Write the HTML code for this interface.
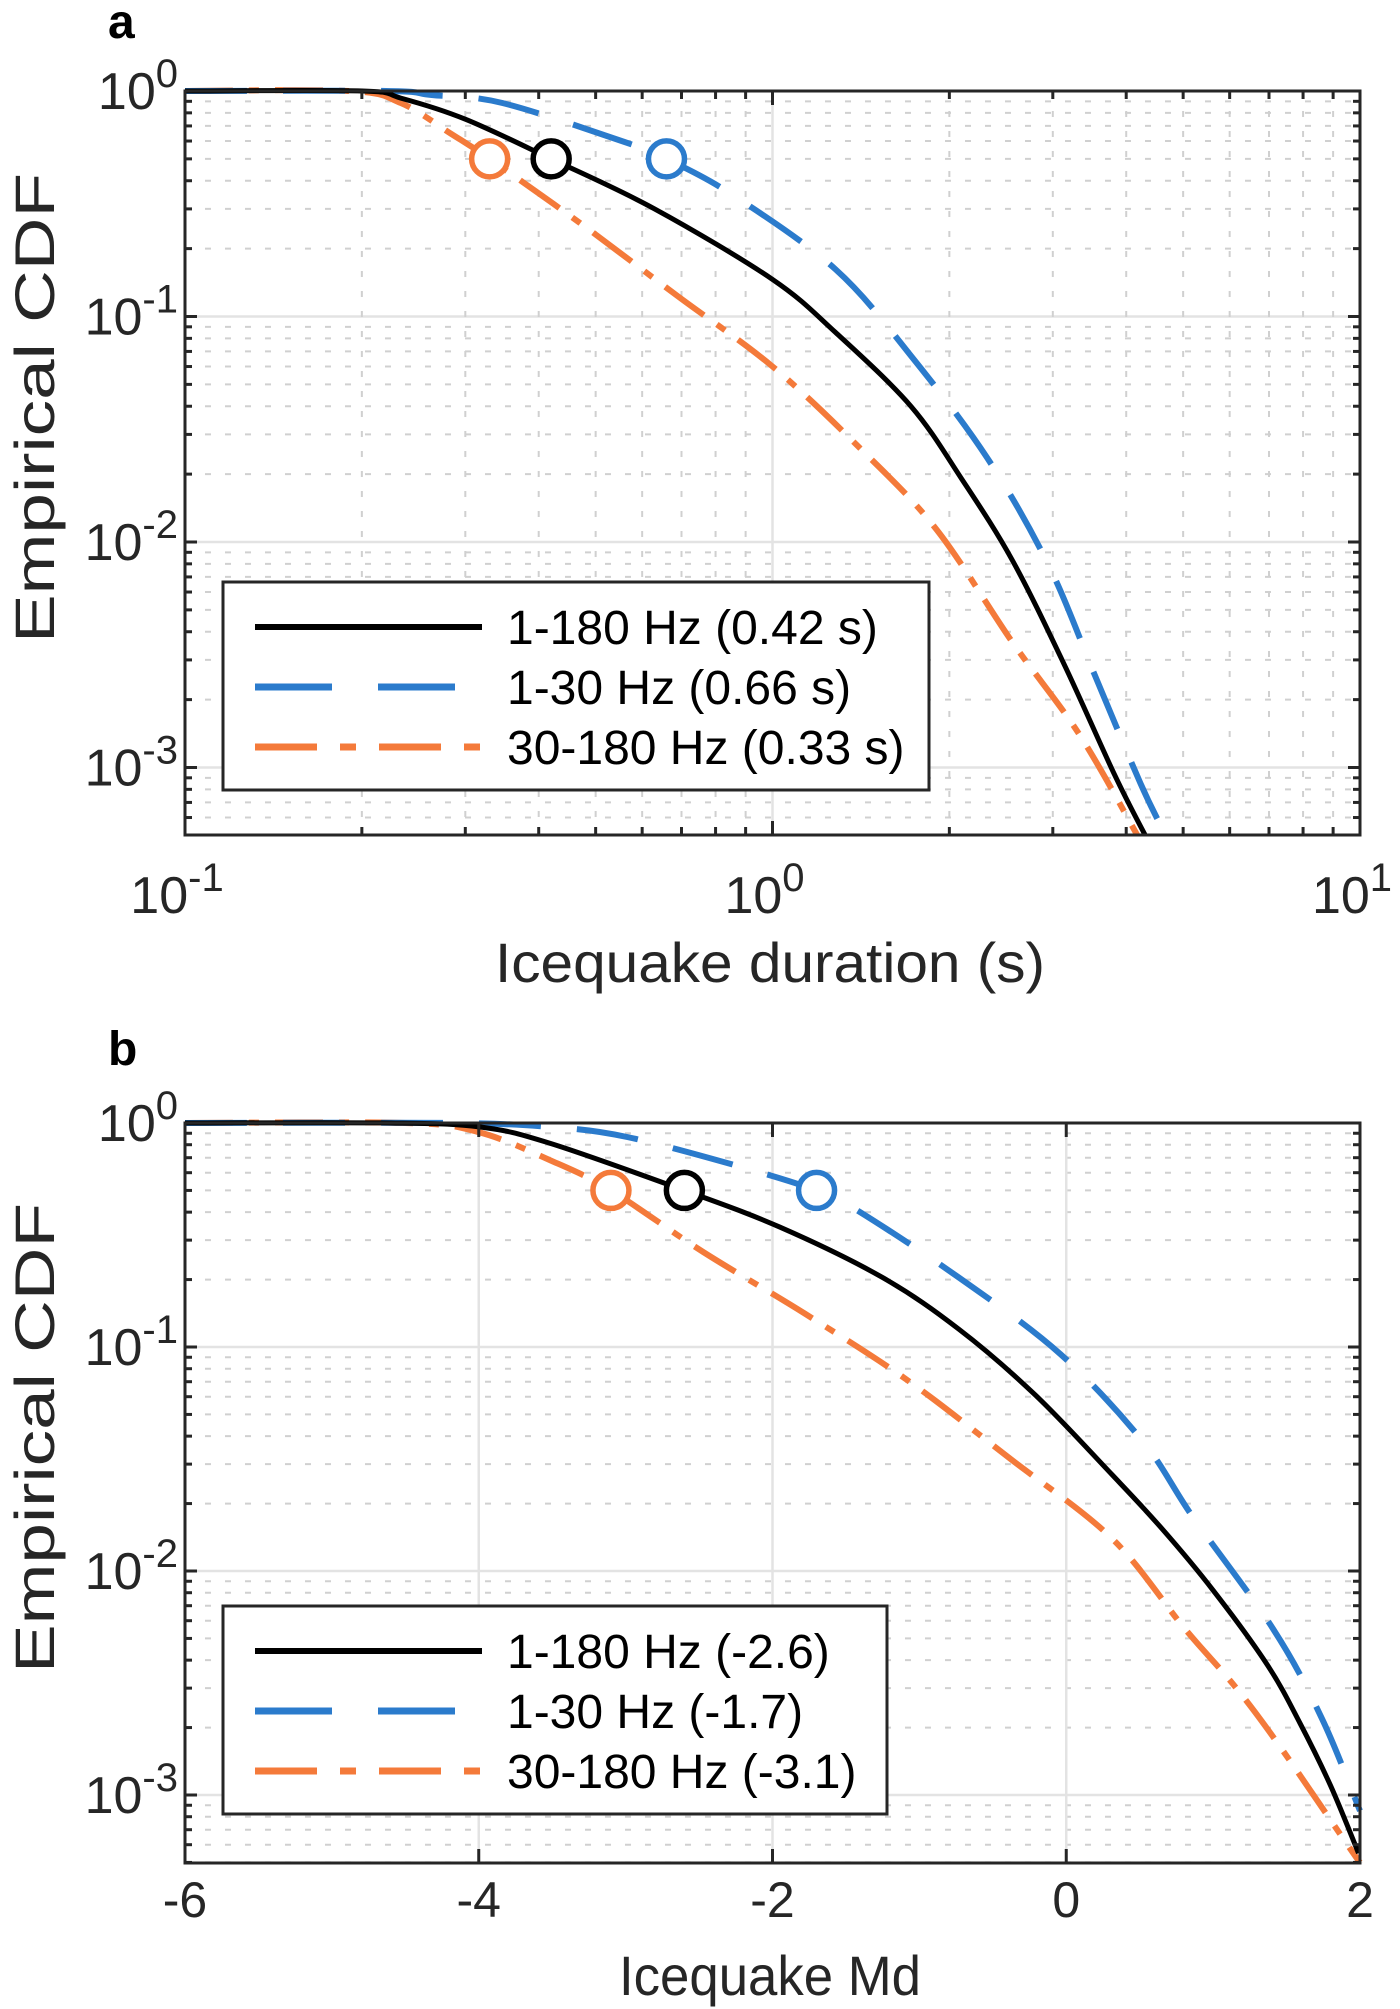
<!DOCTYPE html>
<html><head><meta charset="utf-8"><style>
html,body{margin:0;padding:0;background:#fff}
svg{display:block}
text{font-family:"Liberation Sans",sans-serif;fill:#262626}
</style></head><body>
<svg id="fig" width="1400" height="2009" viewBox="0 0 1400 2009" xmlns="http://www.w3.org/2000/svg">
<g id="pa"></g>
<g id="pb"></g>
</svg>
<script>
// Panel a data (duration, s)
const aBlackX=[0.1,0.2,0.233,0.30,0.42,0.63,1.0,1.28,1.72,2.1,2.56,3.13,3.82,4.31];
const aBlackY=[1,1,0.93,0.75,0.5,0.30,0.146,0.085,0.040,0.019,0.0083,0.0029,0.00093,0.0005];
const aBlueX=[0.1,0.22,0.263,0.347,0.56,0.66,0.855,1.28,1.72,2.32,2.95,3.53,4.23,4.67];
const aBlueY=[1,1,0.96,0.885,0.594,0.5,0.346,0.162,0.067,0.0236,0.0079,0.0026,0.00085,0.0005];
const aOrangeX=[0.1,0.19,0.233,0.284,0.33,0.47,0.687,1.0,1.41,1.9,2.56,3.33,4.18];
const aOrangeY=[1,1,0.885,0.645,0.5,0.26,0.124,0.06,0.026,0.0114,0.0036,0.0014,0.0005];
const aMedX=[0.42,0.66,0.33];
const aLegend=["1-180 Hz (0.42 s)","1-30 Hz (0.66 s)","30-180 Hz (0.33 s)"];
// Panel b data (Md)
const bBlackX=[-6,-4.6,-3.99,-3.51,-2.6,-1.95,-1.25,-0.73,-0.21,0.31,0.65,1.0,1.37,1.59,1.80,1.99];
const bBlackY=[1,1,0.96,0.81,0.5,0.343,0.204,0.12,0.061,0.027,0.0155,0.0082,0.0038,0.0021,0.0011,0.00055];
const bBlueX=[-6,-4.2,-3.51,-2.99,-2.19,-1.7,-1.43,-0.73,-0.04,0.52,0.86,1.41,1.74,2.0];
const bBlueY=[1,1,0.96,0.866,0.63,0.5,0.41,0.204,0.093,0.038,0.0175,0.0055,0.0022,0.00085];
const bOrangeX=[-6,-4.5,-4.0,-3.51,-3.1,-2.47,-1.78,-1.08,-0.39,0.31,0.8,1.14,1.44,1.93,2.0];
const bOrangeY=[1,1,0.91,0.68,0.5,0.265,0.141,0.071,0.032,0.014,0.0056,0.0031,0.0017,0.00058,0.0005];
const bMedX=[-2.6,-1.7,-3.1];
const bLegend=["1-180 Hz (-2.6)","1-30 Hz (-1.7)","30-180 Hz (-3.1)"];
const yTickExp=[0,-1,-2,-3];
const aXTickExp=[-1,0,1];
const bXTicks=[-6,-4,-2,0,2];

const NS="http://www.w3.org/2000/svg";
function mk(parent,tag,attrs){const e=document.createElementNS(NS,tag);for(const k in attrs)e.setAttribute(k,attrs[k]);parent.appendChild(e);return e;}
const COL={black:"#000",blue:"#2b7bcc",orange:"#f47a3a"};
const DASH={black:"none",blue:"62 36",orange:"48 16 10 16"};

function smoothPath(pts){
  let d="M"+pts[0][0].toFixed(1)+","+pts[0][1].toFixed(1);
  for(let i=0;i<pts.length-1;i++){
    const p0=pts[Math.max(0,i-1)],p1=pts[i],p2=pts[i+1],p3=pts[Math.min(pts.length-1,i+2)];
    const c1=[p1[0]+(p2[0]-p0[0])/6,p1[1]+(p2[1]-p0[1])/6];
    const c2=[p2[0]-(p3[0]-p1[0])/6,p2[1]-(p3[1]-p1[1])/6];
    d+="C"+c1[0].toFixed(1)+","+c1[1].toFixed(1)+" "+c2[0].toFixed(1)+","+c2[1].toFixed(1)+" "+p2[0].toFixed(1)+","+p2[1].toFixed(1);
  }
  return d;
}

function panel(g,cfg){
  const L=185,R=1360,T=cfg.top,B=cfg.bottom,dec=cfg.dec;
  const X=cfg.X, Y=v=>T-Math.log10(v)*dec;
  const grid=mk(g,"g",{});
  
  
  for(let e=0;e>=-4;e--){
    for(let m=2;m<=9;m++){const y=Y(m*Math.pow(10,e-1));if(y<T||y>B)continue;
      mk(grid,"line",{x1:L,x2:R,y1:y,y2:y,stroke:"#d0d0d0","stroke-width":2,"stroke-dasharray":"6 14"});}
  }
  yTickExp.forEach(e=>{const y=Y(Math.pow(10,e));mk(grid,"line",{x1:L,x2:R,y1:y,y2:y,stroke:"#e3e3e3","stroke-width":2.5});});
  cfg.xMinor.forEach(v=>{const x=X(v);mk(grid,"line",{x1:x,x2:x,y1:T,y2:B,stroke:"#d0d0d0","stroke-width":2,"stroke-dasharray":"6 14"});});
  cfg.xMajor.forEach(v=>{const x=X(v);mk(grid,"line",{x1:x,x2:x,y1:T,y2:B,stroke:"#e3e3e3","stroke-width":2.5});});
  const ser=[["black",cfg.bx,cfg.by],["blue",cfg.ux,cfg.uy],["orange",cfg.ox,cfg.oy]];
  const clip=mk(g,"clipPath",{id:"clip"+cfg.id});mk(clip,"rect",{x:L,y:T-10,width:R-L+4,height:B-T+10});
  const sg=mk(g,"g",{"clip-path":"url(#clip"+cfg.id+")"});
  [2,1,0].forEach(i=>{const s=ser[i];
    const pts=s[1].map((v,j)=>[X(v),Y(s[2][j])]);
    const p=mk(sg,"path",{d:smoothPath(pts),fill:"none",stroke:COL[s[0]],"stroke-width":s[0]=="black"?5:6,"stroke-dasharray":DASH[s[0]]});
    
    
  });
  [2,0,1].forEach(i=>{const s=ser[i];const mx=cfg.med[i];
    const c=mk(g,"circle",{cx:X(mx),cy:Y(0.5),r:18,fill:"#fff",stroke:COL[s[0]],"stroke-width":5.5});
    
    
  });
  const ax=mk(g,"rect",{x:L,y:T,width:R-L,height:B-T,fill:"none",stroke:"#262626","stroke-width":3});
  
  
  for(let e=0;e>=-4;e--){
    for(let m=1;m<=9;m++){const y=Y(m*Math.pow(10,e-1));if(y<T-1||y>B)continue;const len=m==1?12:7;
      mk(g,"line",{x1:L,x2:L+len,y1:y,y2:y,stroke:"#262626","stroke-width":3});
      mk(g,"line",{x1:R,x2:R-len,y1:y,y2:y,stroke:"#262626","stroke-width":3});}
  }
  yTickExp.forEach(e=>{const y=Y(Math.pow(10,e));
    const t=mk(g,"text",{x:178,y:y+18,"text-anchor":"end","font-size":52});
    
    
    t.appendChild(document.createTextNode("10"));
    const s=mk(t,"tspan",{dy:-22,"font-size":40});s.textContent=String(e);});
  cfg.xTickMarks.forEach(([v,len])=>{const x=X(v);
    mk(g,"line",{x1:x,x2:x,y1:B,y2:B-len,stroke:"#262626","stroke-width":3});
    mk(g,"line",{x1:x,x2:x,y1:T,y2:T+len,stroke:"#262626","stroke-width":3});});
  cfg.xLabels(g,X,B);
  const yl=mk(g,"text",{x:0,y:0,"text-anchor":"middle","font-size":56,textLength:cfg.ylLen,lengthAdjust:"spacingAndGlyphs",transform:"translate(54,"+((T+B)/2-55)+") rotate(-90)"});
  yl.textContent="Empirical CDF";
  
  
  const xl=mk(g,"text",{x:cfg.xlx,y:cfg.xly,"text-anchor":"middle","font-size":56,textLength:cfg.xlLen,lengthAdjust:"spacingAndGlyphs"});
  xl.textContent=cfg.xlabel;
  
  
  const pl=mk(g,"text",{x:108,y:cfg.plY,"font-size":48,"font-weight":"bold"});
  pl.textContent=cfg.id;
  pl.style.fill="#000";
  
  
  const lg=mk(g,"g",{});
  
  
  mk(lg,"rect",{x:223,y:cfg.legT,width:cfg.legW,height:208,fill:"#fff",stroke:"#262626","stroke-width":3});
  ["black","blue","orange"].forEach((c,i)=>{const y=cfg.legT+45+i*60;
    const ln=mk(lg,"line",{x1:255,x2:482,y1:y,y2:y,stroke:COL[c],"stroke-width":c=="black"?6:7,"stroke-dasharray":c=="blue"?"77 46":(c=="orange"?"62 23 16 23":"none")});
    
    
    const t=mk(lg,"text",{x:507,y:y+17,"font-size":48});t.textContent=cfg.legend[i];t.style.fill="#000";
    
    
  });
}

(function(){
  const L=185,dec=587.5;
  const X=v=>L+(Math.log10(v)+1)*dec;
  const minor=[],marks=[];
  for(let e=-1;e<=0;e++)for(let m=2;m<=9;m++){minor.push(m*Math.pow(10,e));marks.push([m*Math.pow(10,e),8]);}
  aXTickExp.forEach(e=>marks.push([Math.pow(10,e),14]));
  panel(document.getElementById("pa"),{id:"a",top:91,bottom:835,dec:225.5,X:X,
    bx:aBlackX,by:aBlackY,ux:aBlueX,uy:aBlueY,ox:aOrangeX,oy:aOrangeY,med:aMedX,
    xMinor:minor,xMajor:aXTickExp.map(e=>Math.pow(10,e)),xTickMarks:marks,
    xLabels:(g,X,B)=>{aXTickExp.forEach(e=>{const t=mk(g,"text",{x:X(Math.pow(10,e))-8,y:B+78,"text-anchor":"middle","font-size":52});
      
      
      t.appendChild(document.createTextNode("10"));const s=mk(t,"tspan",{dy:-22,"font-size":40});s.textContent=String(e);});},
    xlabel:"Icequake duration (s)",xlx:770,xly:982,xlLen:550,ylLen:470,plY:38,legT:582,legW:706,legend:aLegend});
})();
(function(){
  const L=185,R=1360;
  const X=v=>L+(v+6)*(R-L)/8;
  panel(document.getElementById("pb"),{id:"b",top:1123,bottom:1863,dec:224,X:X,
    bx:bBlackX,by:bBlackY,ux:bBlueX,uy:bBlueY,ox:bOrangeX,oy:bOrangeY,med:bMedX,
    xMinor:[],xMajor:bXTicks,xTickMarks:bXTicks.map(v=>[v,14]),
    xLabels:(g,X,B)=>{bXTicks.forEach(v=>{const t=mk(g,"text",{x:X(v),y:B+54,"text-anchor":"middle","font-size":50});
      
      
      t.textContent=String(v);});},
    xlabel:"Icequake Md",xlx:770,xly:1995,xlLen:302,ylLen:470,plY:1065,legT:1606,legW:664,legend:bLegend});
})();
</script>
</body></html>
